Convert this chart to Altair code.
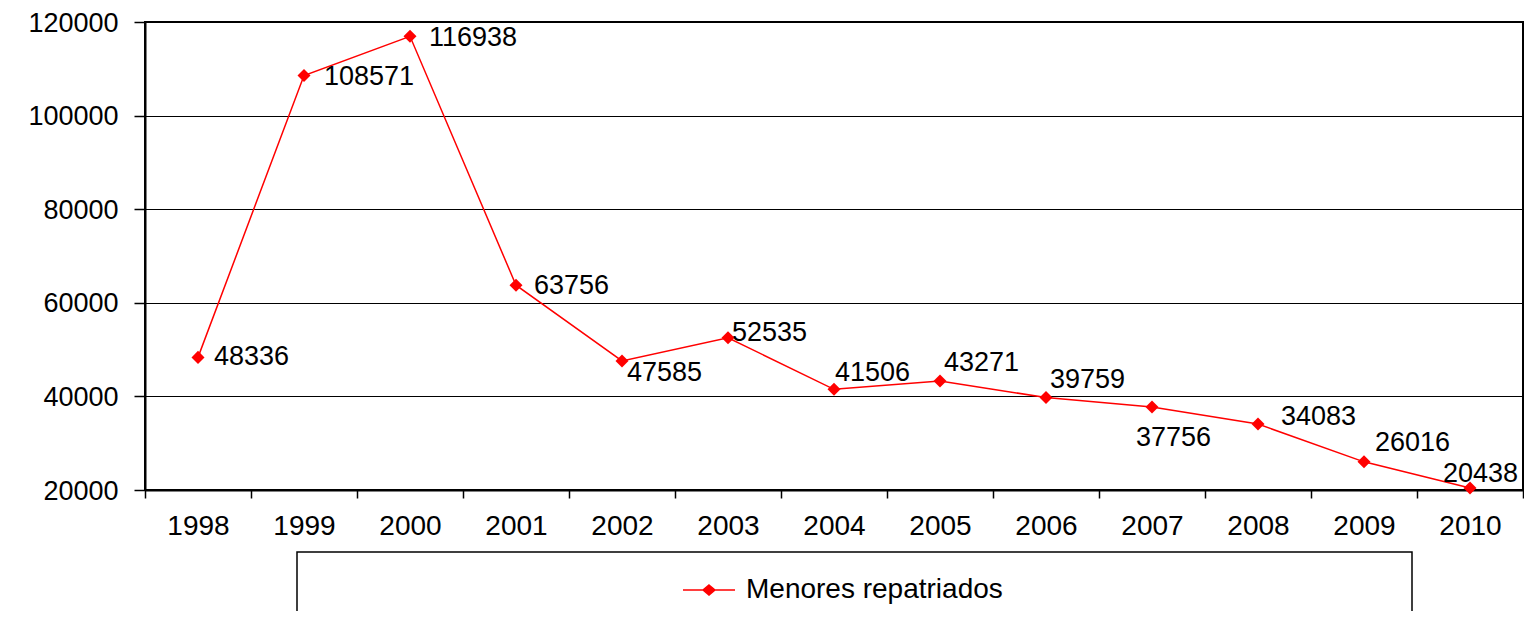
import altair as alt
import pandas as pd

# ---- data ----
years = [1998, 1999, 2000, 2001, 2002, 2003, 2004, 2005, 2006, 2007, 2008, 2009, 2010]
values = [48336, 108571, 116938, 63756, 47585, 52535, 41506, 43271, 39759, 37756, 34083, 26016, 20438]
series_name = "Menores repatriados"
y_ticks = [20000, 40000, 60000, 80000, 100000, 120000]

# label placement (pixel offsets from each point), kept apart from data
label_dx = [16, 20, 19, 18, 5, 4, 1, 4, 4, -16, 23, 11, -27]
label_dy = [0, 2, 2, 1, 12, -5, -16, -18, -18, 31, -7, -19, -14]

df = pd.DataFrame({"year": years, "value": values, "serie": [series_name] * len(years)})

FONT = "Liberation Sans"
RED = "#FF0000"

x_ticks = [y - 0.5 for y in years] + [years[-1] + 0.5] + years
x_enc = alt.X(
    "year:Q",
    scale=alt.Scale(domain=[years[0] - 0.5, years[-1] + 0.5], nice=False, zero=False),
    axis=alt.Axis(
        title=None,
        values=x_ticks,
        labelExpr="datum.value % 1 === 0 ? datum.value : ''",
        tickOpacity={"condition": {"test": "datum.value % 1 === 0", "value": 0}, "value": 1},
        tickSize=8,
        tickWidth=1.5,
        tickColor="black",
        domainColor="black",
        domainWidth=2,
        labelFontSize=28,
        labelFont=FONT,
        labelColor="black",
        labelPadding=14,
        labelOverlap=False,
        labelFlush=False,
        grid=False,
    ),
)
y_enc = alt.Y(
    "value:Q",
    scale=alt.Scale(domain=[20000, 120000], nice=False, zero=False),
    axis=alt.Axis(
        title=None,
        values=y_ticks,
        format="d",
        tickSize=11,
        tickWidth=1.5,
        tickColor="black",
        domainColor="black",
        domainWidth=2,
        grid=True,
        gridColor="black",
        gridWidth=1.2,
        labelFontSize=27,
        labelFont=FONT,
        labelColor="black",
        labelPadding=16,
        labelOffset=1,
    ),
)

base = alt.Chart(df)

line = base.mark_line(color=RED, strokeWidth=1.5).encode(x=x_enc, y=y_enc)

legend_path = "M-1,0H1M0,-0.19L0.23,0L0,0.19L-0.23,0Z"
points = base.mark_point(shape="diamond", filled=True, size=170, opacity=1).encode(
    x=x_enc,
    y=y_enc,
    color=alt.Color(
        "serie:N",
        scale=alt.Scale(domain=[series_name], range=[RED]),
        legend=alt.Legend(
            title=None,
            orient="none",
            legendX=537,
            legendY=541,
            symbolType=legend_path,
            symbolSize=2704,
            symbolStrokeColor=RED,
            symbolFillColor=RED,
            symbolStrokeWidth=1.5,
            labelFontSize=28,
            labelFont=FONT,
            labelColor="black",
            labelOffset=10,
            labelLimit=0,
            padding=0,
        ),
    ),
)

text_layers = []
for yr, dx, dy in zip(years, label_dx, label_dy):
    text_layers.append(
        base.transform_filter(alt.datum.year == yr)
        .mark_text(align="left", baseline="middle", dx=dx, dy=dy, fontSize=27, font=FONT, color="black")
        .encode(x=x_enc, y=y_enc, text=alt.Text("value:Q", format="d"))
    )

frame = (
    alt.Chart(pd.DataFrame({"k": [0]}))
    .mark_rect(fill=None, stroke="black", strokeWidth=1.5)
    .encode(x=alt.value(152), x2=alt.value(1267), y=alt.value(530), y2=alt.value(700))
)

chart = (
    alt.layer(line, points, *text_layers, frame)
    .properties(
        width=1378,
        height=468,
        autosize=alt.AutoSizeParams(type="none"),
        padding={"left": 137, "top": 14, "right": 1, "bottom": 121},
        background="white",
    )
    .configure_view(stroke="black", strokeWidth=2)
)

chart.save("out.html", embed_options={"renderer": "svg", "actions": False})
